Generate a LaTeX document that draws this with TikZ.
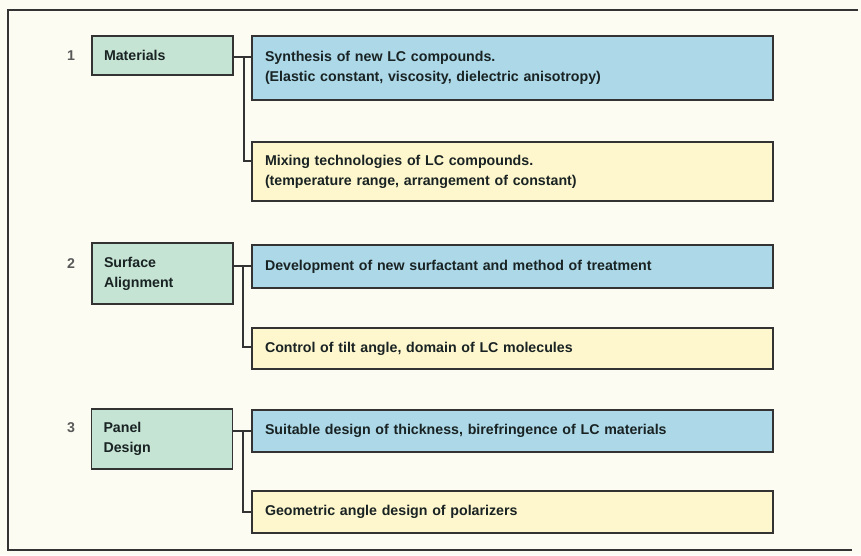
\documentclass[tikz,border=0pt]{standalone}
\usepackage{fontspec}
\setmainfont{Liberation Sans}
\begin{document}
\begin{tikzpicture}[x=1pt,y=-1pt,
  font=\bfseries\fontsize{14.2}{20}\selectfont,
  box/.style={draw=black!80, line width=1.1pt, inner ysep=0pt, align=left, text=txt},
  gbox/.style={box, fill=gfill, minimum width=141pt, text width=117pt, inner xsep=12pt},
  bbox/.style={box, fill=bfill, minimum width=521pt, text width=495pt, inner xsep=13pt},
  ybox/.style={box, fill=yfill, minimum width=521pt, text width=495pt, inner xsep=13pt},
  num/.style={text=black!65, inner sep=0pt},
  conn/.style={draw=black!80, line width=1.1pt}]
\definecolor{bg}{RGB}{252,252,243}
\definecolor{gfill}{RGB}{198,228,212}
\definecolor{bfill}{RGB}{172,216,232}
\definecolor{yfill}{RGB}{254,246,204}
\definecolor{txt}{RGB}{25,35,35}
\useasboundingbox (0,0) rectangle (861,555);
\fill[bg] (0,0) rectangle (861,555);
\draw[line width=2.5pt, draw=black!80] (858,10) -- (8,10) -- (8,550) -- (852,550);

\node[num] (n1) at (71,55.5) {1};
\node[num] (n2) at (71,264) {2};
\node[num] (n3) at (71,428) {3};

\node[gbox, minimum height=39pt] (g1) at (162.5,55.5) {Materials};
\node[gbox, minimum height=61pt] (g2) at (162.5,273.5) {Surface\\Alignment};
\node[gbox, minimum height=60pt] (g3) at (162,439) {Panel\\Design};

\node[bbox, minimum height=64pt] (b1) at (512.5,68) {Synthesis of new LC compounds.\\(Elastic constant, viscosity, dielectric anisotropy)};
\node[ybox, minimum height=59pt] (y1) at (512.5,171.5) {Mixing technologies of LC compounds.\\(temperature range, arrangement of constant)};
\node[bbox, minimum height=43pt] (b2) at (512.5,266.5) {Development of new surfactant and method of treatment};
\node[ybox, minimum height=41pt] (y2) at (512.5,348.5) {Control of tilt angle, domain of LC molecules};
\node[bbox, minimum height=42pt] (b3) at (512.5,431) {Suitable design of thickness, birefringence of LC materials};
\node[ybox, minimum height=42pt] (y3) at (512.5,512) {Geometric angle design of polarizers};

\coordinate (j1) at (244,57);
\coordinate (k1) at (244,161);
\coordinate (j2) at (243,266);
\coordinate (k2) at (243,347);
\coordinate (j3) at (243,431);
\coordinate (k3) at (243,512);

\draw[conn] (g1.east |- j1) -- (b1.west |- j1);
\draw[conn] (j1) -- (k1) -- (y1.west |- k1);
\draw[conn] (g2.east |- j2) -- (b2.west |- j2);
\draw[conn] (j2) -- (k2) -- (y2.west |- k2);
\draw[conn] (g3.east |- j3) -- (b3.west |- j3);
\draw[conn] (j3) -- (k3) -- (y3.west |- k3);
\end{tikzpicture}
\end{document}
